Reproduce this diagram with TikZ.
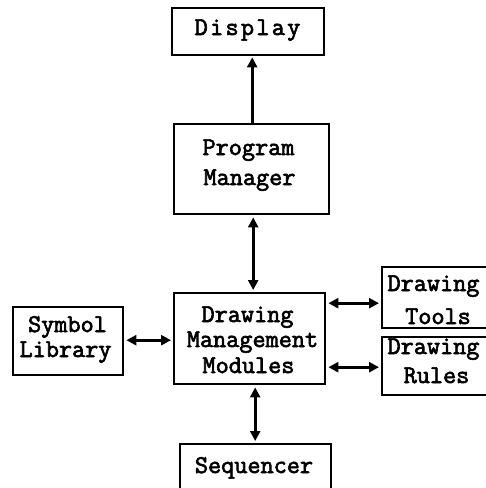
\documentclass[tikz,border=0pt]{standalone}
\usepackage{fontspec}
\newfontfamily\boxfont{Latin Modern Mono}[FakeBold=2.5]
\usetikzlibrary{arrows.meta,calc}
\begin{document}
\begin{tikzpicture}[x=1pt,y=-1pt,
  box/.style={draw=black,line width=2.4pt,rectangle,inner sep=0pt,anchor=north west},
  txt/.style={anchor=base,inner sep=0pt,font=\fontsize{25.5}{28}\boxfont},
  conn/.style={line width=3.2pt,{Triangle[length=10pt,width=10pt]}-{Triangle[length=10pt,width=10pt]},shorten <=2pt,shorten >=2pt},
  oneway/.style={line width=3.2pt,-{Triangle[length=10pt,width=10pt]},shorten >=1pt}]
\useasboundingbox (0,0) rectangle (486,488);
\clip (0,0) rectangle (486,488);
% boxes
\node[box,minimum width=152pt,minimum height=47pt] (disp) at (171,7) {};
\node[box,minimum width=155pt,minimum height=90pt] (pm) at (173,123) {};
\node[box,minimum width=151pt,minimum height=91pt] (dmm) at (173,292) {};
\node[box,minimum width=110pt,minimum height=68pt] (sym) at (12,306) {};
\node[box,minimum width=108pt,minimum height=61pt] (tools) at (381,266) {};
\node[box,minimum width=108pt,minimum height=58pt] (rules) at (381,336) {};
\node[box,minimum width=151pt,minimum height=60pt] (seq) at (179,443) {};
% texts
\node[txt] (t1) at (247.5,35) {\addfontfeature{LetterSpace=9}Display};
\node[txt] (t2) at (248.5,155) {Program};
\node[txt] (t3) at (249.5,185) {Manager};
\node[txt] (t4) at (247.5,322) {Drawing};
\node[txt] (t5) at (252.5,347) {Management};
\node[txt] (t6) at (248.5,373) {Modules};
\node[txt] (t7) at (67.5,332) {Symbol};
\node[txt] (t8) at (65.5,357) {Library};
\node[txt] (t9) at (433.5,291) {Drawing};
\node[txt] (t10) at (438,324) {Tools};
\node[txt] (t11) at (433.5,354) {Drawing};
\node[txt] (t12) at (436.5,383) {Rules};
\node[txt] (t13) at (254,473) {Sequencer};
% connectors
\draw[oneway] ($(pm.north)+(0.5,0)$) -- ($(disp.south)+(4,0)$);
\draw[conn] ($(pm.south)+(1.5,0)$) -- ($(dmm.north)+(3.5,0)$);
\draw[conn] ($(dmm.south)+(5.5,0)$) -- ($(seq.north)+(-0.5,0)$);
\draw[conn] ($(sym.east)+(0,-1)$) -- ($(dmm.west)+(0,1.5)$);
\draw[conn] ($(dmm.east)+(0,-35.5)$) -- ($(tools.west)+(0,5.5)$);
\draw[conn] ($(dmm.east)+(0,28.5)$) -- ($(rules.west)+(0,1)$);
\end{tikzpicture}
\end{document}
